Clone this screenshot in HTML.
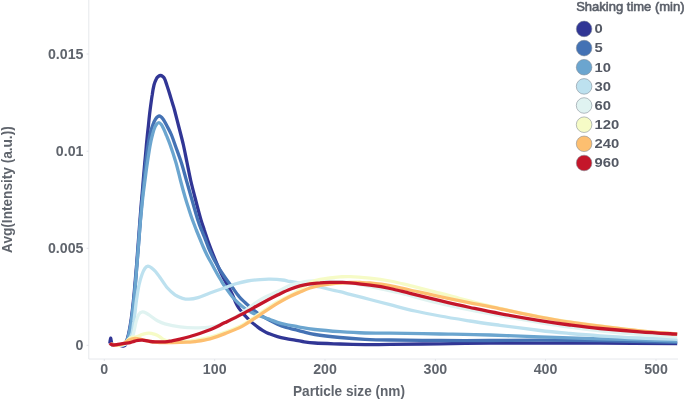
<!DOCTYPE html>
<html><head><meta charset="utf-8"><title>Chart</title>
<style>
html,body{margin:0;padding:0;background:#fff;}
body{width:685px;height:400px;overflow:hidden;}
svg{display:block;font-family:"Liberation Sans",Arial,sans-serif;}
.tk text{font-size:14.9px;font-weight:bold;fill:#60656d;}
.lg text{font-size:13px;font-weight:bold;fill:#545964;}
.ttl{font-size:14.9px;font-weight:bold;fill:#60656d;}
.curves path{fill:none;stroke-width:3.3;stroke-linejoin:round;stroke-linecap:butt;}
</style></head><body>
<svg width="685" height="400" viewBox="0 0 685 400">
<rect width="685" height="400" fill="#fff"/>
<path d="M88.8,0V359H678" fill="none" stroke="#e6e8ec" stroke-width="1"/>
<path d="M104.3,359v2M214.7,359v2M325.0,359v2M435.4,359v2M545.5,359v2M656.0,359v2M86.6,345.3h2.2M86.6,248.3h2.2M86.6,151.2h2.2M86.6,54.0h2.2" fill="none" stroke="#e1e3e8" stroke-width="1"/>
<g class="curves">
<path d="M109.8,343.5C109.9,342.6 110.3,338.2 110.6,338.1C110.9,338.0 111.2,341.8 111.6,343.0C112.0,344.2 112.1,344.9 113.0,345.2C113.9,345.5 115.7,344.9 117.0,345.0C118.3,345.1 119.8,345.4 121.0,345.6C122.2,345.8 123.2,346.2 124.0,346.0C124.8,345.8 125.3,345.3 125.8,344.3C126.3,343.3 126.5,341.8 127.0,340.0C127.5,338.2 128.0,336.2 128.6,333.8C129.2,331.2 129.7,328.5 130.3,325.0C130.9,321.5 131.6,316.7 132.1,312.5C132.6,308.3 133.0,304.6 133.5,300.0C134.0,295.4 134.4,290.8 134.9,285.0C135.4,279.2 136.0,271.7 136.6,265.0C137.1,258.3 137.5,252.5 138.1,245.0C138.7,237.5 139.4,227.5 140.0,220.0C140.6,212.5 141.0,206.7 141.6,200.0C142.2,193.3 142.8,186.2 143.3,180.0C143.8,173.8 144.3,168.3 144.8,162.5C145.4,156.7 145.9,150.8 146.4,145.0C147.0,139.2 147.5,133.3 148.2,127.5C148.8,121.7 149.4,115.4 150.1,110.0C150.8,104.6 151.5,99.2 152.2,95.0C152.8,90.8 153.3,87.7 154.0,85.0C154.7,82.3 155.7,80.2 156.4,78.8C157.1,77.3 157.7,76.8 158.4,76.3C159.1,75.8 159.8,75.5 160.5,75.5C161.2,75.5 161.9,75.8 162.6,76.3C163.3,76.8 163.9,77.3 164.6,78.8C165.3,80.2 165.9,82.3 166.8,85.0C167.7,87.7 169.0,91.7 170.0,95.0C171.0,98.3 172.2,102.5 173.0,105.0C173.8,107.5 173.5,106.2 174.5,110.0C175.5,113.8 177.5,121.7 179.0,127.5C180.5,133.3 182.1,139.2 183.4,145.0C184.7,150.8 185.8,156.7 187.0,162.5C188.2,168.3 189.3,174.2 190.6,180.0C191.9,185.8 193.3,190.8 195.0,197.5C196.7,204.2 199.4,214.6 201.0,220.0C202.6,225.4 203.1,226.2 204.3,230.0C205.6,233.8 207.1,238.7 208.5,242.5C209.9,246.3 211.0,249.2 212.5,253.0C214.0,256.8 215.9,261.5 217.4,265.0C218.9,268.5 220.1,271.1 221.5,274.0C222.9,276.9 224.4,279.8 225.9,282.5C227.4,285.2 229.2,288.2 230.2,290.2C231.3,292.3 231.6,293.0 232.5,295.0C233.4,297.0 234.5,299.8 235.5,302.0C236.5,304.2 237.6,306.2 238.8,308.0C239.9,309.8 241.5,311.2 242.5,312.5C243.5,313.8 243.5,314.0 245.0,315.6C246.5,317.2 249.2,320.0 251.2,321.9C253.3,323.8 255.8,325.6 257.5,326.9C259.2,328.2 259.4,328.4 261.2,329.5C263.1,330.6 266.0,332.5 268.8,333.6C271.5,334.8 274.6,335.8 277.5,336.6C280.4,337.4 283.3,338.0 286.2,338.6C289.2,339.2 292.3,339.7 295.0,340.2C297.7,340.7 299.2,341.0 302.5,341.5C305.8,342.0 308.8,342.6 315.0,343.0C321.2,343.4 331.7,343.7 340.0,344.0C348.3,344.3 356.7,344.5 365.0,344.6C373.3,344.7 377.5,344.5 390.0,344.4C402.5,344.3 423.3,344.0 440.0,343.8C456.7,343.6 473.3,343.3 490.0,343.2C506.7,343.1 521.7,343.1 540.0,343.1C558.3,343.1 577.1,343.0 600.0,343.1C622.9,343.2 664.3,343.5 677.2,343.6" stroke="#313695"/>
<path d="M110.5,344.0C110.9,344.2 111.8,344.8 113.0,345.0C114.2,345.2 116.3,345.0 118.0,345.0C119.7,345.0 121.5,345.8 123.0,345.0C124.5,344.2 126.2,341.9 127.2,340.0C128.2,338.1 128.4,336.2 129.0,333.8C129.6,331.2 130.1,328.5 130.7,325.0C131.3,321.5 132.0,316.7 132.5,312.5C133.0,308.3 133.4,304.6 133.9,300.0C134.4,295.4 134.8,290.8 135.3,285.0C135.8,279.2 136.4,271.7 136.9,265.0C137.5,258.3 137.9,252.5 138.5,245.0C139.1,237.5 139.8,227.5 140.4,220.0C141.0,212.5 141.5,206.7 142.1,200.0C142.7,193.3 143.3,186.2 143.9,180.0C144.5,173.8 145.0,168.3 145.7,162.5C146.4,156.7 147.3,149.6 148.0,145.0C148.7,140.4 149.1,138.2 149.8,135.0C150.5,131.8 151.4,128.7 152.4,126.0C153.4,123.3 154.4,120.7 155.6,119.0C156.8,117.3 158.1,116.0 159.3,116.0C160.5,116.0 161.7,117.3 163.0,119.0C164.3,120.7 165.6,123.3 167.0,126.0C168.4,128.7 170.2,131.8 171.5,135.0C172.8,138.2 173.5,140.4 175.1,145.0C176.7,149.6 179.4,156.7 181.3,162.5C183.2,168.3 184.6,174.2 186.3,180.0C188.0,185.8 189.4,190.8 191.3,197.5C193.2,204.2 196.1,214.6 197.8,220.0C199.5,225.4 200.3,227.0 201.5,230.0C202.7,233.0 203.7,235.1 204.8,238.0C206.0,240.9 207.1,244.4 208.4,247.5C209.7,250.6 211.1,253.6 212.5,256.5C213.9,259.4 215.5,262.2 217.1,265.0C218.7,267.8 220.2,270.2 222.0,273.0C223.8,275.8 226.2,279.1 228.0,281.5C229.8,283.9 230.7,285.0 232.5,287.5C234.3,290.0 236.7,293.8 238.8,296.2C240.8,298.8 242.9,300.5 245.0,302.5C247.1,304.5 249.2,306.2 251.2,308.0C253.3,309.8 255.4,311.5 257.5,313.0C259.6,314.5 261.7,315.9 263.8,317.2C265.8,318.4 267.7,319.3 270.0,320.5C272.3,321.7 274.8,323.1 277.5,324.3C280.2,325.5 283.3,326.6 286.2,327.5C289.2,328.4 292.3,328.9 295.0,329.6C297.7,330.3 299.2,330.8 302.5,331.6C305.8,332.4 308.8,333.5 315.0,334.5C321.2,335.5 331.7,336.7 340.0,337.5C348.3,338.3 356.7,338.9 365.0,339.3C373.3,339.7 377.5,339.8 390.0,340.0C402.5,340.2 423.3,340.4 440.0,340.5C456.7,340.6 473.3,340.6 490.0,340.5C506.7,340.4 521.7,340.1 540.0,340.1C558.3,340.1 577.1,340.2 600.0,340.6C622.9,341.0 664.3,342.0 677.2,342.3" stroke="#4472b4"/>
<path d="M110.5,344.0C110.9,344.2 111.8,344.8 113.0,345.0C114.2,345.2 116.3,345.0 118.0,345.0C119.7,345.0 121.5,345.8 123.0,345.0C124.5,344.2 126.2,341.9 127.2,340.0C128.2,338.1 128.4,336.2 129.0,333.8C129.6,331.2 130.1,328.5 130.7,325.0C131.3,321.5 132.0,316.7 132.5,312.5C133.0,308.3 133.4,304.6 133.9,300.0C134.4,295.4 134.8,290.8 135.3,285.0C135.8,279.2 136.4,271.7 136.9,265.0C137.5,258.3 137.9,252.5 138.5,245.0C139.1,237.5 139.8,227.5 140.5,220.0C141.2,212.5 141.8,206.7 142.5,200.0C143.2,193.3 144.2,186.2 145.0,180.0C145.8,173.8 146.5,168.3 147.4,162.5C148.3,156.7 149.4,149.2 150.2,145.0C150.9,140.8 151.2,139.7 151.9,137.0C152.6,134.3 153.4,131.1 154.2,129.0C154.9,126.9 155.6,125.6 156.4,124.5C157.2,123.4 158.1,122.6 158.9,122.6C159.7,122.6 160.5,123.5 161.3,124.5C162.1,125.5 162.6,126.7 163.5,128.5C164.4,130.3 165.4,132.8 166.5,135.5C167.6,138.2 168.6,140.5 170.2,145.0C171.8,149.5 174.2,156.7 175.9,162.5C177.6,168.3 178.9,174.2 180.4,180.0C181.9,185.8 183.8,192.7 185.2,197.5C186.6,202.3 187.6,205.2 188.8,209.0C190.0,212.8 191.2,216.5 192.5,220.0C193.8,223.5 195.1,226.8 196.3,230.0C197.6,233.2 198.8,236.1 200.0,239.0C201.2,241.9 202.2,244.5 203.5,247.5C204.8,250.5 206.5,254.1 208.0,257.0C209.5,259.9 210.9,262.2 212.4,265.0C213.9,267.8 215.7,271.1 217.0,273.5C218.3,275.9 219.4,277.7 220.5,279.5C221.6,281.3 222.5,283.0 223.5,284.5C224.5,286.0 224.8,286.4 226.2,288.5C227.8,290.6 230.4,294.5 232.5,297.0C234.6,299.5 236.7,301.6 238.8,303.5C240.8,305.4 242.9,307.0 245.0,308.5C247.1,310.0 249.2,311.2 251.2,312.3C253.3,313.4 255.4,314.2 257.5,315.0C259.6,315.8 261.7,316.6 263.8,317.3C265.8,318.1 267.7,318.7 270.0,319.5C272.3,320.3 274.8,321.5 277.5,322.3C280.2,323.1 283.3,323.9 286.2,324.5C289.2,325.1 292.3,325.6 295.0,326.1C297.7,326.6 299.2,327.1 302.5,327.7C305.8,328.3 308.8,328.8 315.0,329.5C321.2,330.2 331.7,331.1 340.0,331.7C348.3,332.3 356.7,332.8 365.0,333.0C373.3,333.2 377.5,333.0 390.0,333.2C402.5,333.4 423.3,333.7 440.0,334.0C456.7,334.3 473.3,334.5 490.0,335.0C506.7,335.5 521.7,336.3 540.0,336.9C558.3,337.5 577.1,338.1 600.0,338.8C622.9,339.4 664.3,340.6 677.2,341.0" stroke="#6ba5cf"/>
<path d="M110.5,344.0C111.1,344.2 112.4,344.8 114.0,345.0C115.6,345.2 118.2,345.2 120.0,345.0C121.8,344.8 123.6,344.8 125.0,344.0C126.4,343.2 127.3,341.7 128.5,340.0C129.7,338.3 131.0,336.8 131.9,333.8C132.8,330.8 133.2,325.5 133.8,322.0C134.3,318.5 134.5,316.2 135.0,312.5C135.5,308.8 135.8,304.6 136.5,300.0C137.2,295.4 138.1,289.2 139.0,285.0C139.9,280.8 141.0,277.3 142.0,274.5C143.0,271.7 144.0,269.7 145.0,268.3C146.0,266.9 146.9,266.3 148.0,266.2C149.1,266.2 150.2,266.9 151.5,267.8C152.8,268.7 154.1,269.9 155.5,271.5C156.9,273.1 158.0,274.8 160.0,277.5C162.0,280.2 165.0,285.1 167.5,288.0C170.0,290.9 172.5,293.0 175.0,294.8C177.5,296.5 180.2,297.6 182.5,298.3C184.8,299.0 186.4,299.3 189.0,299.2C191.6,299.1 194.5,298.6 198.0,297.6C201.5,296.6 205.5,294.6 210.0,293.0C214.5,291.4 220.8,289.2 225.0,287.8C229.2,286.2 231.2,285.1 235.0,284.0C238.8,282.9 243.3,281.7 247.5,281.0C251.7,280.3 256.2,279.9 260.0,279.6C263.8,279.3 266.2,279.1 270.0,279.2C273.8,279.3 279.2,279.6 282.5,280.0C285.8,280.4 287.1,281.0 290.0,281.5C292.9,282.0 296.7,282.4 300.0,283.0C303.3,283.6 306.7,284.3 310.0,285.0C313.3,285.7 316.7,286.2 320.0,287.0C323.3,287.8 326.7,288.7 330.0,289.5C333.3,290.3 336.7,290.9 340.0,291.7C343.3,292.5 345.0,293.0 350.0,294.3C355.0,295.6 363.3,297.8 370.0,299.5C376.7,301.2 382.5,302.8 390.0,304.7C397.5,306.6 406.7,309.1 415.0,311.0C423.3,312.9 430.8,314.3 440.0,316.0C449.2,317.7 460.0,319.4 470.0,321.0C480.0,322.6 488.3,323.7 500.0,325.3C511.7,326.9 528.3,329.1 540.0,330.5C551.7,331.9 560.0,332.6 570.0,333.5C580.0,334.4 588.3,335.1 600.0,335.8C611.7,336.6 627.1,337.4 640.0,338.0C652.9,338.6 671.0,339.1 677.2,339.3" stroke="#bde1ef"/>
<path d="M110.5,344.0C111.1,344.2 112.4,344.8 114.0,345.0C115.6,345.2 118.0,345.2 120.0,345.0C122.0,344.8 124.3,344.8 126.0,344.0C127.7,343.2 128.8,342.0 130.0,340.5C131.2,339.0 132.1,338.2 133.1,335.0C134.1,331.8 135.3,324.7 136.2,321.2C137.2,317.8 137.7,316.0 138.8,314.4C139.8,312.8 141.3,312.1 142.5,311.9C143.7,311.7 144.8,312.4 146.0,313.0C147.2,313.6 148.1,314.2 150.0,315.5C151.9,316.8 155.0,319.4 157.5,320.8C160.0,322.1 161.2,322.8 165.0,323.8C168.8,324.8 175.0,326.1 180.0,326.8C185.0,327.4 190.0,327.7 195.0,327.8C200.0,327.9 205.5,327.8 210.0,327.2C214.5,326.6 217.0,326.1 222.0,324.0C227.0,321.9 233.7,318.3 240.0,314.3C246.3,310.3 253.8,303.7 260.0,299.9C266.2,296.1 272.5,294.1 277.5,291.6C282.5,289.2 285.4,287.0 290.0,285.3C294.6,283.6 300.8,282.3 305.0,281.6C309.2,280.9 311.7,281.0 315.0,280.9C318.3,280.8 321.7,280.8 325.0,280.9C328.3,281.0 331.7,281.1 335.0,281.4C338.3,281.6 340.8,281.9 345.0,282.4C349.2,282.9 354.2,283.6 360.0,284.6C365.8,285.6 373.3,287.2 380.0,288.6C386.7,290.0 393.3,291.4 400.0,293.0C406.7,294.6 413.3,296.6 420.0,298.3C426.7,300.1 431.7,301.6 440.0,303.5C448.3,305.4 460.0,308.0 470.0,310.0C480.0,312.0 488.3,313.5 500.0,315.6C511.7,317.7 528.3,320.7 540.0,322.6C551.7,324.5 560.0,325.8 570.0,327.2C580.0,328.6 588.3,329.6 600.0,330.8C611.7,332.0 627.1,333.4 640.0,334.4C652.9,335.4 671.0,336.6 677.2,337.0" stroke="#e0f3f1"/>
<path d="M110.5,344.0C111.4,344.2 113.9,344.9 116.0,345.0C118.1,345.1 120.7,345.6 123.0,344.5C125.3,343.4 127.8,339.4 130.0,338.1C132.2,336.8 134.2,337.5 136.2,336.9C138.3,336.3 140.4,335.0 142.5,334.4C144.6,333.8 146.7,333.1 148.8,333.1C150.8,333.1 153.1,333.8 155.0,334.4C156.9,335.0 158.6,336.1 160.0,337.0C161.4,337.9 161.8,338.8 163.5,339.5C165.2,340.2 167.2,341.1 170.0,341.5C172.8,341.9 175.8,342.2 180.0,342.0C184.2,341.8 190.0,341.2 195.0,340.4C200.0,339.6 205.0,338.7 210.0,337.4C215.0,336.1 219.6,334.5 225.0,332.4C230.4,330.3 236.7,328.0 242.5,324.9C248.3,321.8 254.2,317.3 260.0,313.5C265.8,309.7 271.7,305.4 277.5,302.0C283.3,298.6 290.4,295.6 295.0,292.9C299.6,290.2 301.7,287.8 305.0,285.7C308.3,283.6 310.8,281.9 315.0,280.6C319.2,279.3 325.8,278.5 330.0,277.9C334.2,277.3 336.7,277.1 340.0,276.9C343.3,276.7 345.0,276.4 350.0,276.6C355.0,276.8 363.3,277.5 370.0,278.2C376.7,278.9 383.3,279.8 390.0,281.0C396.7,282.2 401.7,283.6 410.0,285.6C418.3,287.6 431.7,291.1 440.0,293.2C448.3,295.3 453.3,296.8 460.0,298.5C466.7,300.2 473.3,302.0 480.0,303.6C486.7,305.2 490.0,306.2 500.0,308.4C510.0,310.6 528.3,314.5 540.0,316.8C551.7,319.1 560.0,320.5 570.0,322.0C580.0,323.5 588.3,324.5 600.0,326.0C611.7,327.5 627.1,329.4 640.0,330.8C652.9,332.2 671.0,333.6 677.2,334.2" stroke="#f6fbc6"/>
<path d="M110.5,344.0C111.4,344.2 113.9,345.0 116.0,345.0C118.1,345.0 120.8,344.8 123.0,344.0C125.2,343.2 127.0,340.9 129.0,340.0C131.0,339.1 132.8,338.4 135.0,338.3C137.2,338.2 139.5,339.0 142.0,339.5C144.5,340.0 147.0,341.0 150.0,341.5C153.0,342.0 156.2,342.3 160.0,342.5C163.8,342.7 167.9,342.7 172.5,342.6C177.1,342.6 183.8,342.4 187.5,342.2C191.2,342.0 191.2,342.2 195.0,341.6C198.8,341.0 205.0,340.1 210.0,338.8C215.0,337.4 219.6,335.8 225.0,333.6C230.4,331.5 236.7,329.2 242.5,326.1C248.3,323.0 254.2,318.5 260.0,314.8C265.8,311.0 272.5,306.4 277.5,303.4C282.5,300.4 286.2,298.4 290.0,296.5C293.8,294.6 296.7,293.4 300.0,292.0C303.3,290.6 306.7,289.1 310.0,288.0C313.3,286.9 316.7,286.2 320.0,285.5C323.3,284.8 326.7,284.4 330.0,284.0C333.3,283.6 336.7,283.2 340.0,283.0C343.3,282.8 346.7,282.6 350.0,282.5C353.3,282.4 356.7,282.4 360.0,282.5C363.3,282.6 365.0,282.5 370.0,283.0C375.0,283.5 383.3,284.4 390.0,285.6C396.7,286.8 401.7,288.2 410.0,290.0C418.3,291.8 430.0,294.5 440.0,296.6C450.0,298.8 460.0,300.9 470.0,302.9C480.0,304.9 488.3,306.4 500.0,308.8C511.7,311.2 528.3,314.8 540.0,317.0C551.7,319.2 560.0,320.7 570.0,322.2C580.0,323.7 588.3,324.8 600.0,326.2C611.7,327.6 627.1,329.5 640.0,330.8C652.9,332.1 671.0,333.6 677.2,334.2" stroke="#fdbf70"/>
<path d="M110.0,343.1C110.2,343.4 110.9,344.3 111.5,344.6C112.1,344.9 112.7,345.1 113.8,345.0C114.8,344.9 116.3,344.6 118.0,344.3C119.7,344.0 121.8,343.7 123.8,343.4C125.8,343.1 128.3,343.0 130.0,342.6C131.7,342.2 132.7,341.7 134.0,341.3C135.3,340.9 136.6,340.6 138.0,340.4C139.4,340.2 140.7,340.1 142.5,340.2C144.3,340.3 146.7,341.0 148.8,341.2C150.8,341.5 152.3,341.8 155.0,341.9C157.7,342.0 162.2,341.9 165.0,341.8C167.8,341.6 169.5,341.2 172.0,340.8C174.5,340.4 176.2,340.2 180.0,339.2C183.8,338.2 190.0,336.6 195.0,335.0C200.0,333.4 205.0,331.8 210.0,329.8C215.0,327.7 219.6,325.2 225.0,322.6C230.4,320.0 236.7,317.0 242.5,313.9C248.3,310.8 254.2,307.4 260.0,304.2C265.8,301.1 272.5,297.6 277.5,295.1C282.5,292.7 286.2,290.8 290.0,289.3C293.8,287.8 296.7,286.8 300.0,285.9C303.3,285.0 306.7,284.4 310.0,283.9C313.3,283.4 316.7,283.1 320.0,282.9C323.3,282.6 326.7,282.5 330.0,282.4C333.3,282.3 336.7,282.3 340.0,282.4C343.3,282.5 345.0,282.3 350.0,282.8C355.0,283.3 363.3,284.2 370.0,285.2C376.7,286.1 383.3,287.1 390.0,288.5C396.7,289.9 401.7,291.3 410.0,293.3C418.3,295.3 430.0,298.3 440.0,300.7C450.0,303.1 460.0,305.4 470.0,307.5C480.0,309.6 488.3,311.4 500.0,313.6C511.7,315.8 528.3,318.7 540.0,320.6C551.7,322.5 560.0,323.7 570.0,325.0C580.0,326.3 588.3,327.4 600.0,328.5C611.7,329.6 627.1,330.9 640.0,331.8C652.9,332.8 671.0,333.8 677.2,334.2" stroke="#c4162a"/>
</g>
<g class="tk">
<text transform="translate(104.3,374.2) scale(0.955,1)" text-anchor="middle">0</text>
<text transform="translate(214.7,374.2) scale(0.955,1)" text-anchor="middle">100</text>
<text transform="translate(325.0,374.2) scale(0.955,1)" text-anchor="middle">200</text>
<text transform="translate(435.4,374.2) scale(0.955,1)" text-anchor="middle">300</text>
<text transform="translate(545.5,374.2) scale(0.955,1)" text-anchor="middle">400</text>
<text transform="translate(656.0,374.2) scale(0.955,1)" text-anchor="middle">500</text>
<text transform="translate(83.5,349.9) scale(0.955,1)" text-anchor="end">0</text>
<text transform="translate(83.5,252.9) scale(0.955,1)" text-anchor="end">0.005</text>
<text transform="translate(83.5,155.8) scale(0.955,1)" text-anchor="end">0.01</text>
<text transform="translate(83.5,58.6) scale(0.955,1)" text-anchor="end">0.015</text>
</g>
<text class="ttl" transform="translate(349,395.5) scale(0.915,1)" text-anchor="middle">Particle size (nm)</text>
<text class="ttl" transform="translate(12.4,189.6) rotate(-90) scale(0.915,1)" text-anchor="middle">Avg(Intensity (a.u.))</text>
<text x="576.2" y="11.1" font-size="13px" fill="#5a5f69" stroke="#5a5f69" stroke-width="0.6" stroke-linejoin="round">Shaking time (min)</text>
<g class="lg">
<circle cx="584.1" cy="28.9" r="7.8" fill="#313695" stroke="#7d8792" stroke-opacity="0.55" stroke-width="1"/>
<text transform="translate(594.5,33.2) scale(1.14,1)">0</text>
<circle cx="584.1" cy="48.1" r="7.8" fill="#4472b4" stroke="#7d8792" stroke-opacity="0.55" stroke-width="1"/>
<text transform="translate(594.5,52.4) scale(1.14,1)">5</text>
<circle cx="584.1" cy="67.2" r="7.8" fill="#6ba5cf" stroke="#7d8792" stroke-opacity="0.55" stroke-width="1"/>
<text transform="translate(594.5,71.5) scale(1.14,1)">10</text>
<circle cx="584.1" cy="86.4" r="7.8" fill="#bde1ef" stroke="#7d8792" stroke-opacity="0.55" stroke-width="1"/>
<text transform="translate(594.5,90.7) scale(1.14,1)">30</text>
<circle cx="584.1" cy="105.5" r="7.8" fill="#e0f3f1" stroke="#7d8792" stroke-opacity="0.55" stroke-width="1"/>
<text transform="translate(594.5,109.8) scale(1.14,1)">60</text>
<circle cx="584.1" cy="124.7" r="7.8" fill="#f6fbc6" stroke="#7d8792" stroke-opacity="0.55" stroke-width="1"/>
<text transform="translate(594.5,129.0) scale(1.14,1)">120</text>
<circle cx="584.1" cy="143.8" r="7.8" fill="#fdbf70" stroke="#7d8792" stroke-opacity="0.55" stroke-width="1"/>
<text transform="translate(594.5,148.2) scale(1.14,1)">240</text>
<circle cx="584.1" cy="163.0" r="7.8" fill="#c4162a" stroke="#7d8792" stroke-opacity="0.55" stroke-width="1"/>
<text transform="translate(594.5,167.3) scale(1.14,1)">960</text>
</g>
</svg>
</body></html>
